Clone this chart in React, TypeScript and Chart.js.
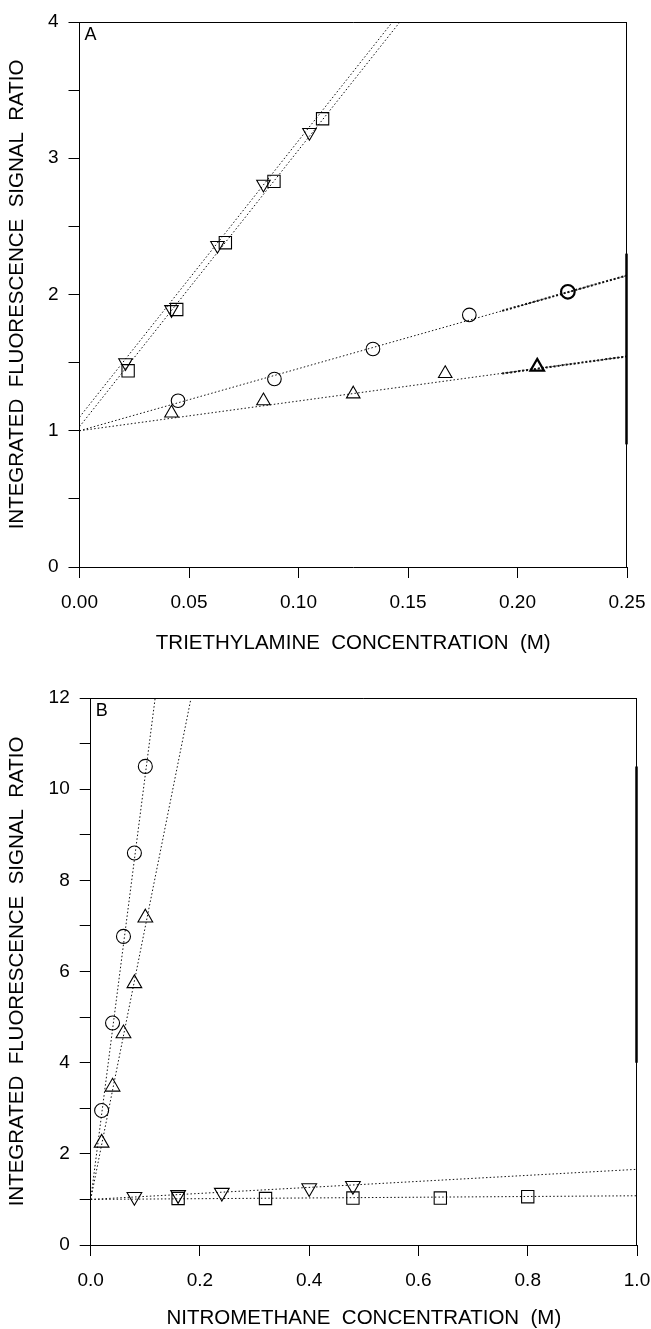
import React, { useEffect, useRef } from 'react';
import { Chart, registerables } from 'chart.js';

Chart.register(...registerables);

// ---------- Panel A : triethylamine ----------
const aSquareX = [0.0222, 0.0444, 0.0666, 0.0888, 0.111];
const aSquareY = [1.44, 1.89, 2.38, 2.83, 3.29];
const aDownX = [0.021, 0.042, 0.063, 0.084, 0.105];
const aDownY = [1.5, 1.89, 2.36, 2.81, 3.19];
const aCircleX = [0.045, 0.089, 0.134, 0.178, 0.223];
const aCircleY = [1.22, 1.38, 1.6, 1.85, 2.02];
const aUpX = [0.042, 0.084, 0.125, 0.167, 0.209];
const aUpY = [1.13, 1.22, 1.27, 1.42, 1.47];
// fitted lines (end points)
const aFitSquare = [{ x: 0, y: 1.03 }, { x: 0.1463, y: 4 }];
const aFitDown = [{ x: 0, y: 1.1 }, { x: 0.1429, y: 4 }];
const aFitCircle = [{ x: 0, y: 1.0 }, { x: 0.25, y: 2.14 }];
const aFitCircleBold = [{ x: 0.193, y: 1.88 }, { x: 0.25, y: 2.14 }];
const aFitUp = [{ x: 0, y: 1.0 }, { x: 0.25, y: 1.546 }];
const aFitUpBold = [{ x: 0.193, y: 1.42 }, { x: 0.25, y: 1.546 }];
const aXTicks = { min: 0, max: 0.25, step: 0.05, decimals: 2 };
const aYTicks = { min: 0, max: 4, step: 0.5, labelEvery: 1 };
const aXTitle = 'TRIETHYLAMINE  CONCENTRATION  (M)';

// ---------- Panel B : nitromethane ----------
const bCircleX = [0.02, 0.04, 0.06, 0.08, 0.1];
const bCircleY = [2.95, 4.87, 6.77, 8.6, 10.5];
const bUpX = [0.02, 0.04, 0.06, 0.08, 0.1];
const bUpY = [2.24, 3.47, 4.64, 5.74, 7.18];
const bDownX = [0.08, 0.16, 0.24, 0.4, 0.48];
const bDownY = [1.06, 1.1, 1.15, 1.25, 1.3];
const bSquareX = [0.16, 0.32, 0.48, 0.64, 0.8];
const bSquareY = [1.02, 1.02, 1.03, 1.03, 1.06];
const bFitCircle = [{ x: 0, y: 1 }, { x: 0.118, y: 12 }];
const bFitUp = [{ x: 0, y: 1 }, { x: 0.1837, y: 12 }];
const bFitDown = [{ x: 0, y: 1 }, { x: 1, y: 1.66 }];
const bFitSquare = [{ x: 0, y: 1 }, { x: 1, y: 1.08 }];
const bXTicks = { min: 0, max: 1, step: 0.2, decimals: 1 };
const bYTicks = { min: 0, max: 12, step: 1, labelEvery: 2 };
const bXTitle = 'NITROMETHANE  CONCENTRATION  (M)';

const yTitle = 'INTEGRATED  FLUORESCENCE  SIGNAL  RATIO';

const FONT = '"Liberation Sans", Arial, Helvetica, sans-serif';
const INK = '#000';
const LINE = '#111';

const pts = (xs: number[], ys: number[]) => xs.map((x, i) => ({ x, y: ys[i] }));

function markers(xs: number[], ys: number[], style: string, radius: number, rotation = 0, widths?: number[]) {
  return {
    type: 'scatter',
    data: pts(xs, ys),
    showLine: false,
    pointStyle: style,
    rotation,
    pointRadius: radius,
    pointBorderWidth: widths || 1.1,
    pointBorderColor: INK,
    pointBackgroundColor: 'rgba(0,0,0,0)',
    order: 0,
  };
}

function fit(data: { x: number; y: number }[], width = 1, dash = [1.5, 2.2]) {
  return {
    type: 'scatter',
    data,
    showLine: true,
    borderColor: LINE,
    borderWidth: width,
    borderDash: dash,
    pointRadius: 0,
    fill: false,
    order: 1,
  };
}

const framePlugin = {
  id: 'frame',
  afterDraw(chart: any, _args: any, opts: any) {
    const { ctx, chartArea } = chart;
    const { left, right, top, bottom } = chartArea;
    const ys = chart.scales.y;
    ctx.save();
    ctx.strokeStyle = INK;
    ctx.lineWidth = 1;
    ctx.beginPath();
    ctx.moveTo(left, top + 0.5);
    ctx.lineTo(right, top + 0.5);
    ctx.moveTo(right - 0.5, top);
    ctx.lineTo(right - 0.5, bottom);
    ctx.stroke();
    ctx.lineWidth = 2.5;
    ctx.beginPath();
    ctx.moveTo(right - 0.5, ys.getPixelForValue(opts.thickFrom));
    ctx.lineTo(right - 0.5, ys.getPixelForValue(opts.thickTo));
    ctx.stroke();
    ctx.fillStyle = INK;
    ctx.font = `18px ${FONT}`;
    ctx.textBaseline = 'top';
    ctx.textAlign = 'left';
    ctx.fillText(opts.label, left + 5, top + 4);
    ctx.restore();
  },
};

interface Spec {
  height: number;
  areaLeft: number;
  areaRight: number;
  areaTop: number;
  areaBottom: number;
  xTicks: { min: number; max: number; step: number; decimals: number };
  yTicks: { min: number; max: number; step: number; labelEvery: number };
  xTitle: string;
  xTitleCenter: number;
  datasets: any[];
  label: string;
  thickFrom: number;
  thickTo: number;
}

function makeConfig(s: Spec): any {
  const tickFont = { family: FONT, size: 19 };
  const titleFont = { family: FONT, size: 20.5, lineHeight: 1 };
  return {
    type: 'scatter',
    data: { datasets: s.datasets },
    plugins: [framePlugin],
    options: {
      responsive: false,
      animation: false,
      devicePixelRatio: 1,
      layout: { padding: { left: 0, top: s.areaTop, right: 651 - s.areaRight, bottom: 0 } },
      plugins: {
        legend: { display: false },
        tooltip: { enabled: false },
        frame: { label: s.label, thickFrom: s.thickFrom, thickTo: s.thickTo },
      },
      scales: {
        x: {
          type: 'linear',
          min: s.xTicks.min,
          max: s.xTicks.max,
          ticks: {
            stepSize: s.xTicks.step,
            autoSkip: false,
            maxRotation: 0,
            color: INK,
            font: tickFont,
            padding: 13,
            callback: (v: number) => Number(v).toFixed(s.xTicks.decimals),
          },
          grid: { drawOnChartArea: false, drawTicks: true, tickLength: 11, color: INK, lineWidth: 1 },
          border: { display: true, color: INK, width: 1 },
          title: {
            display: true,
            text: s.xTitle,
            color: INK,
            font: titleFont,
            padding: { top: 0, bottom: s.height - s.xTitleCenter - 10.25 },
          },
          afterFit: (sc: any) => {
            sc.height = s.height - s.areaBottom;
            sc.paddingLeft = 0;
            sc.paddingRight = 0;
          },
        },
        y: {
          type: 'linear',
          min: s.yTicks.min,
          max: s.yTicks.max,
          ticks: {
            stepSize: s.yTicks.step,
            autoSkip: false,
            color: INK,
            font: tickFont,
            padding: 10,
            callback: (v: number) => {
              const r = Math.round(v * 1000) / 1000;
              return Math.abs(r / s.yTicks.labelEvery - Math.round(r / s.yTicks.labelEvery)) < 1e-6 ? String(r) : '';
            },
          },
          grid: { drawOnChartArea: false, drawTicks: true, tickLength: 11, color: INK, lineWidth: 1 },
          border: { display: true, color: INK, width: 1 },
          title: {
            display: true,
            text: yTitle,
            color: INK,
            font: titleFont,
            padding: { top: 7.5, bottom: 0 },
          },
          afterFit: (sc: any) => {
            sc.width = s.areaLeft;
            sc.paddingTop = 0;
            sc.paddingBottom = 0;
          },
        },
      },
    },
  };
}

const specA: Spec = {
  height: 680,
  areaLeft: 79.5,
  areaRight: 627,
  areaTop: 22,
  areaBottom: 567,
  xTicks: aXTicks,
  yTicks: aYTicks,
  xTitle: aXTitle,
  xTitleCenter: 643,
  label: 'A',
  thickFrom: 2.3,
  thickTo: 0.9,
  datasets: [
    fit(aFitSquare),
    fit(aFitDown),
    fit(aFitCircle),
    fit(aFitCircleBold, 2, [2, 2]),
    fit(aFitUp),
    fit(aFitUpBold, 2, [2, 2]),
    markers(aSquareX, aSquareY, 'rect', 8.7),
    markers(aDownX, aDownY, 'triangle', 7.8, 180),
    markers(aCircleX, aCircleY, 'circle', 6.8, 0, [1.1, 1.1, 1.1, 1.1, 2.2]),
    markers(aUpX, aUpY, 'triangle', 7.8, 0, [1.1, 1.1, 1.1, 1.1, 2.2]),
  ],
};

const specB: Spec = {
  height: 649,
  areaLeft: 90.7,
  areaRight: 637,
  areaTop: 18,
  areaBottom: 565,
  xTicks: bXTicks,
  yTicks: bYTicks,
  xTitle: bXTitle,
  xTitleCenter: 638,
  label: 'B',
  thickFrom: 10.5,
  thickTo: 4,
  datasets: [
    fit(bFitCircle),
    fit(bFitUp),
    fit(bFitDown),
    fit(bFitSquare),
    markers(bCircleX, bCircleY, 'circle', 7),
    markers(bUpX, bUpY, 'triangle', 8.5),
    markers(bDownX, bDownY, 'triangle', 8.5, 180),
    markers(bSquareX, bSquareY, 'rect', 8.7),
  ],
};

function Panel({ spec, top }: { spec: Spec; top: number }) {
  const ref = useRef<HTMLCanvasElement>(null);
  useEffect(() => {
    const chart = new Chart(ref.current as HTMLCanvasElement, makeConfig(spec));
    return () => chart.destroy();
  }, []);
  return (
    <div style={{ position: 'absolute', left: 0, top, width: 651, height: spec.height }}>
      <canvas ref={ref} width={651} height={spec.height} style={{ display: 'block', width: 651, height: spec.height }} />
    </div>
  );
}

export default function App() {
  return (
    <div style={{ position: 'absolute', left: 0, top: 0, width: 651, height: 1329, background: '#fff', overflow: 'hidden' }}>
      <Panel spec={specA} top={0} />
      <Panel spec={specB} top={680} />
    </div>
  );
}
